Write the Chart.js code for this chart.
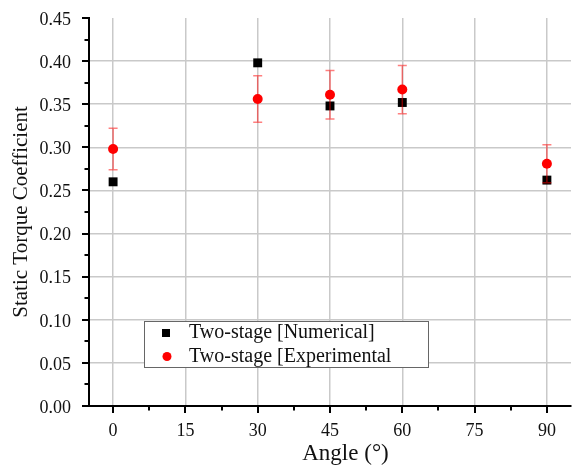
<!DOCTYPE html>
<html>
<head>
<meta charset="utf-8">
<script src="https://cdn.jsdelivr.net/npm/chart.js@4/dist/chart.umd.min.js"></script>
<style>
  html, body { margin: 0; padding: 0; background: #fff; }
  #wrap { width: 572px; height: 466px; }
</style>
</head>
<body>
<div id="wrap"><canvas id="c" width="572" height="466"></canvas></div>
<script>
// Static torque coefficient of the two-stage rotor versus angle
const angles = [0, 30, 45, 60, 90];
const numerical = [0.260, 0.398, 0.348, 0.352, 0.262];
const experimental = [0.298, 0.356, 0.361, 0.367, 0.281];
const experimentalError = [0.024, 0.027, 0.028, 0.028, 0.022];

const xTicks = [0, 15, 30, 45, 60, 75, 90];
const xMinorTicks = [7.5, 22.5, 37.5, 52.5, 67.5, 82.5];
const yTicks = [0, 0.05, 0.10, 0.15, 0.20, 0.25, 0.30, 0.35, 0.40, 0.45];
const yMinorTicks = [0.025, 0.075, 0.125, 0.175, 0.225, 0.275, 0.325, 0.375, 0.425];

const seriesNames = ['Two-stage [Numerical]', 'Two-stage [Experimental'];
const xTitle = 'Angle (\u00B0)';
const yTitle = 'Static Torque Coefficient';

const SERIF = '"Liberation Serif", "Times New Roman", serif';
const INK = '#111';
const GRID = '#c9c9c9';

// Error bars, axis tick marks, x title and the boxed legend
const decor = {
  id: 'decor',
  afterLayout(chart) {
    // let the x axis run right up to the canvas edge
    const a = chart.chartArea;
    a.right = chart.width - 1;
    a.width = a.right - a.left;
    const x = chart.scales.x;
    x.right = a.right;
    x.width = a.right - x.left;
    x.configure();
  },
  beforeDatasetDraw(chart, args) {
    if (args.index !== 1) return;
    const { ctx, scales: { x, y } } = chart;
    ctx.save();
    ctx.strokeStyle = 'rgba(255,0,0,0.5)';
    ctx.lineWidth = 1.5;
    angles.forEach((a, i) => {
      const px = x.getPixelForValue(a);
      const top = y.getPixelForValue(experimental[i] + experimentalError[i]);
      const bot = y.getPixelForValue(experimental[i] - experimentalError[i]);
      ctx.beginPath();
      ctx.moveTo(px, top); ctx.lineTo(px, bot);
      ctx.moveTo(px - 4.5, top); ctx.lineTo(px + 4.5, top);
      ctx.moveTo(px - 4.5, bot); ctx.lineTo(px + 4.5, bot);
      ctx.stroke();
    });
    ctx.restore();
  },
  afterDraw(chart) {
    const { ctx, chartArea: area, scales: { x, y } } = chart;
    ctx.save();
    // tick marks (outward)
    ctx.strokeStyle = '#000';
    ctx.lineWidth = 2;
    ctx.beginPath();
    xTicks.forEach(v => { const p = Math.round(x.getPixelForValue(v)); ctx.moveTo(p, area.bottom); ctx.lineTo(p, area.bottom + 7); });
    xMinorTicks.forEach(v => { const p = Math.round(x.getPixelForValue(v)); ctx.moveTo(p, area.bottom); ctx.lineTo(p, area.bottom + 4.5); });
    yTicks.forEach(v => { const p = Math.round(y.getPixelForValue(v)); ctx.moveTo(area.left, p); ctx.lineTo(area.left - 7, p); });
    yMinorTicks.forEach(v => { const p = Math.round(y.getPixelForValue(v)); ctx.moveTo(area.left, p); ctx.lineTo(area.left - 4.5, p); });
    ctx.stroke();

    // x axis title
    ctx.fillStyle = INK;
    ctx.font = '23px ' + SERIF;
    ctx.textAlign = 'center';
    ctx.textBaseline = 'alphabetic';
    ctx.fillText(xTitle, area.left + 256.5, area.bottom + 54);

    // legend box
    const lx = area.left + 55, ly = area.top + 303, lw = 284, lh = 46;
    ctx.fillStyle = '#fff';
    ctx.fillRect(lx, ly, lw, lh);
    ctx.strokeStyle = '#666';
    ctx.lineWidth = 1;
    ctx.strokeRect(lx + 0.5, ly + 0.5, lw, lh);
    chart.data.datasets.forEach((ds, i) => {
      const cy = ly + 12 + i * 23.5;
      ctx.fillStyle = ds.backgroundColor;
      if (ds.pointStyle === 'rect') {
        ctx.fillRect(lx + 18, cy - 4, 8, 8);
      } else {
        ctx.beginPath();
        ctx.arc(lx + 23, cy, 4.5, 0, Math.PI * 2);
        ctx.fill();
      }
      ctx.fillStyle = INK;
      ctx.font = '20px ' + SERIF;
      ctx.textAlign = 'left';
      ctx.textBaseline = 'alphabetic';
      ctx.fillText(ds.label, lx + 45, cy + 5);
    });
    ctx.restore();
  }
};

const pts = vals => angles.map((a, i) => ({ x: a, y: vals[i] }));

new Chart(document.getElementById('c'), {
  type: 'scatter',
  data: {
    datasets: [
      {
        label: seriesNames[0],
        data: pts(numerical),
        pointStyle: 'rect',
        pointRadius: 6.3,
        backgroundColor: '#000',
        borderColor: '#000',
        borderWidth: 0,
        order: 1
      },
      {
        label: seriesNames[1],
        data: pts(experimental),
        pointStyle: 'circle',
        pointRadius: 5,
        backgroundColor: '#ff0000',
        borderColor: '#ff0000',
        borderWidth: 0,
        order: 0
      }
    ]
  },
  options: {
    responsive: false,
    animation: false,
    devicePixelRatio: 1,
    layout: { padding: { top: 18, right: 1, left: 0, bottom: 0 } },
    plugins: { legend: { display: false }, tooltip: { enabled: false } },
    scales: {
      x: {
        type: 'linear',
        min: -5,
        max: 95,
        afterBuildTicks: s => { s.ticks = xTicks.map(v => ({ value: v })); },
        afterFit: s => { s.height = 60; s.paddingLeft = 0; s.paddingRight = 0; },
        grid: { color: GRID, lineWidth: 1.5, drawTicks: false },
        border: { color: '#000', width: 2 },
        ticks: { font: { family: SERIF, size: 18 }, color: INK, padding: 14, maxRotation: 0 }
      },
      y: {
        type: 'linear',
        min: 0,
        max: 0.45,
        afterBuildTicks: s => { s.ticks = yTicks.map(v => ({ value: v })); },
        afterFit: s => { s.width = 89; s.paddingTop = 0; s.paddingBottom = 0; },
        grid: {
          color: c => (c.tick && c.tick.value >= 0.449) ? 'rgba(0,0,0,0)' : GRID,
          lineWidth: 1.5,
          drawTicks: false
        },
        border: { color: '#000', width: 2 },
        ticks: {
          font: { family: SERIF, size: 18 },
          color: INK,
          padding: 18,
          labelOffset: 2,
          callback: v => v.toFixed(2)
        },
        title: {
          display: true,
          text: yTitle,
          font: { family: SERIF, size: 21 },
          color: INK,
          padding: { top: 9, bottom: 0 }
        }
      }
    }
  },
  plugins: [decor]
});
</script>
</body>
</html>
